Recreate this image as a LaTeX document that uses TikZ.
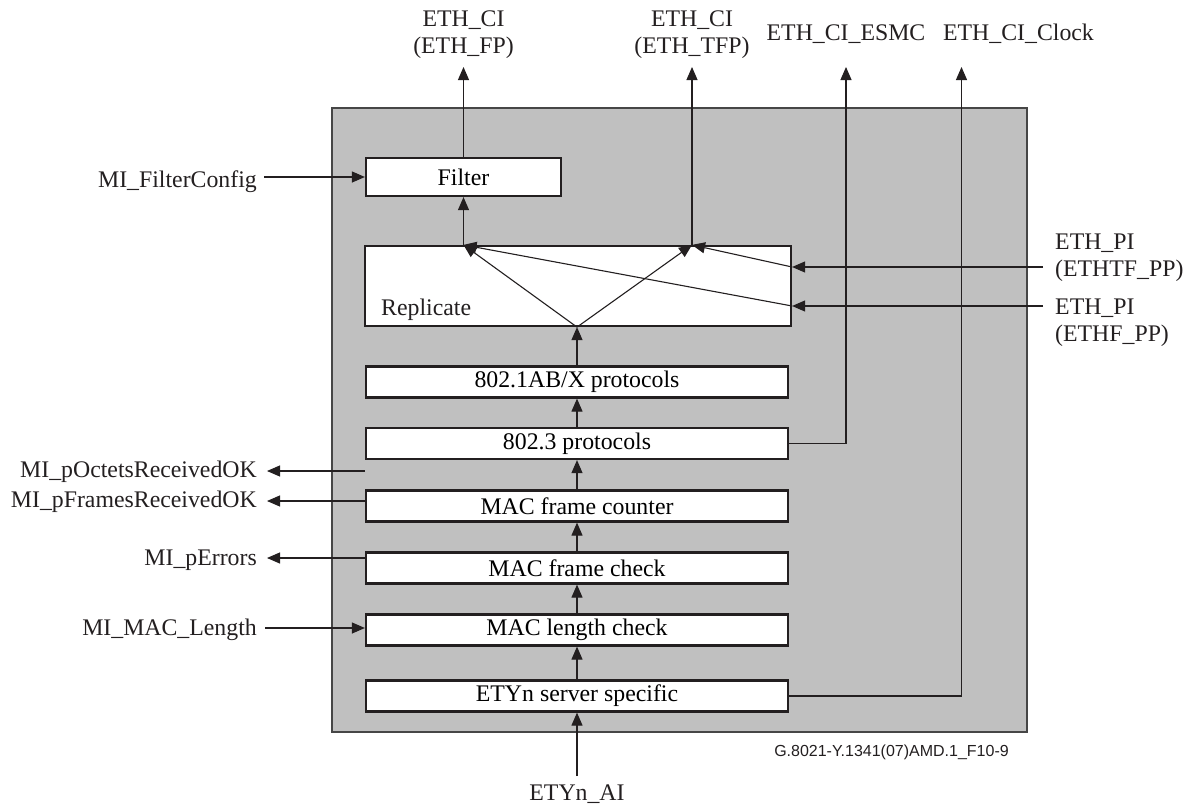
\documentclass[tikz,border=0pt]{standalone}
\usepackage{fontspec}
\setmainfont{Liberation Serif}
\newfontfamily\figsans{Liberation Sans}
\usepackage{xcolor}
\definecolor{fbgray}{RGB}{192,192,192}
\definecolor{fbline}{RGB}{35,31,32}
\definecolor{fbframe}{RGB}{70,70,70}
\usetikzlibrary{arrows.meta, positioning, calc}

\begin{document}
\begin{tikzpicture}[x=1pt, y=-1pt,
  blk/.style={draw=fbline, line width=2.2pt, fill=white, inner sep=0pt,
    minimum width=422pt, minimum height=31pt, font=\fontsize{23.8}{27}\selectfont},
  sig/.style={draw=fbline, line width=1.1pt, -{Triangle[length=13pt, width=11pt]}},
  lbl/.style={font=\fontsize{23.8}{27}\selectfont, inner sep=0pt, text=fbline}]
  \useasboundingbox (0,0) rectangle (1195,809);

  % Gray function box
  \draw[fill=fbgray, draw=fbframe, line width=1.3pt] (332,108) rectangle (1027,732);

  % --- Processing blocks ---
  \node[blk, minimum width=195pt, minimum height=38pt] (filter) at (463.5,177) {Filter};
  \node[blk, minimum width=426pt, minimum height=80pt] (replicate) at (578,286) {};
  \node[lbl, anchor=west] at (381,310) {Replicate};
  \node[blk] (proto1ab) at (577,382) {802.1AB/X protocols};
  \node[blk] (proto8023) at (577,443.5) {802.3 protocols};
  \node[blk] (counter) at (577,506) {MAC frame counter};
  \node[blk] (check) at (577,568) {MAC frame check};
  \node[blk] (length) at (577,630) {MAC length check};
  \node[blk] (server) at (577,696) {ETYn server specific};

  % --- Outside labels ---
  \node[lbl, align=center] (ethfp) at (463.5,34.5) {ETH\_CI\\(ETH\_FP)};
  \node[lbl, align=center] (ethtfp) at (692,34.5) {ETH\_CI\\(ETH\_TFP)};
  \node[lbl] (esmc) at (846,34) {ETH\_CI\_ESMC};
  \node[lbl] (clock) at (1018.5,34) {ETH\_CI\_Clock};
  \node[lbl, align=left, anchor=west] (tfpp) at (1055,257.5) {ETH\_PI\\(ETHTF\_PP)};
  \node[lbl, align=left, anchor=west] (fpp) at (1055,323) {ETH\_PI\\(ETHF\_PP)};
  \node[lbl, anchor=east] (fconf) at (257,181.5) {MI\_FilterConfig};
  \node[lbl, anchor=east] (octets) at (257,471.5) {MI\_pOctetsReceivedOK};
  \node[lbl, anchor=east] (frames) at (257,501.5) {MI\_pFramesReceivedOK};
  \node[lbl, anchor=east] (errors) at (257,560.5) {MI\_pErrors};
  \node[lbl, anchor=east] (maclen) at (257,629.5) {MI\_MAC\_Length};
  \node[lbl] (etyai) at (577,794.5) {ETYn\_AI};
  \node[font=\figsans\fontsize{16}{18}\selectfont, inner sep=0pt, text=fbline] (figid)
    at (891.5,752.5) {G.8021-Y.1341(07)AMD.1\_F10-9};

  % Connector ends
  \coordinate (fpTop) at (463.5,67);
  \coordinate (tfpTop) at (692,67);
  \coordinate (esmcTop) at (846,67);
  \coordinate (clockTop) at (961.5,67);
  \coordinate (tfppSrc) at (1043,267);
  \coordinate (fppSrc) at (1043,306);
  \coordinate (fconfSrc) at (264,177);
  \coordinate (octTip) at (267,471);
  \coordinate (frTip) at (267,501);
  \coordinate (errTip) at (267,558);
  \coordinate (lenSrc) at (265,628);
  \coordinate (aiSrc) at (577,776);
  \coordinate (repIn) at (proto1ab.north |- replicate.south);
  \coordinate (repA) at (filter.south |- replicate.north);
  \coordinate (repB) at (tfpTop |- replicate.north);

  % --- Upward chain ---
  \draw[sig] (aiSrc) -- (server);
  \draw[sig] (server) -- (length);
  \draw[sig] (length) -- (check);
  \draw[sig] (check) -- (counter);
  \draw[sig] (counter) -- (proto8023);
  \draw[sig] (proto8023) -- (proto1ab);
  \draw[sig] (proto1ab.north) -- (repIn);
  \draw[sig] (repA) -- (filter);
  \draw[sig] (filter) -- (fpTop);
  \draw[sig] (repB) -- (tfpTop);

  % Replicate fan-out
  \draw[sig] (repIn) -- (repA);
  \draw[sig] (repIn) -- (repB);
  \draw[sig] (tfppSrc) -- (tfppSrc -| replicate.east);
  \draw[sig] (tfppSrc -| replicate.east) -- (repB);
  \draw[sig] (fppSrc) -- (fppSrc -| replicate.east);
  \draw[sig] (fppSrc -| replicate.east) -- (repA);

  % ESMC and clock outputs
  \draw[sig] (proto8023) -| (esmcTop);
  \draw[sig] (server) -| (clockTop);

  % Management inputs and outputs
  \draw[sig] (fconfSrc) -- (filter);
  \draw[sig] (counter.west |- octTip) -- (octTip);
  \draw[sig] (counter.west |- frTip) -- (frTip);
  \draw[sig] (check.west |- errTip) -- (errTip);
  \draw[sig] (lenSrc) -- (length.west |- lenSrc);
\end{tikzpicture}
\end{document}
